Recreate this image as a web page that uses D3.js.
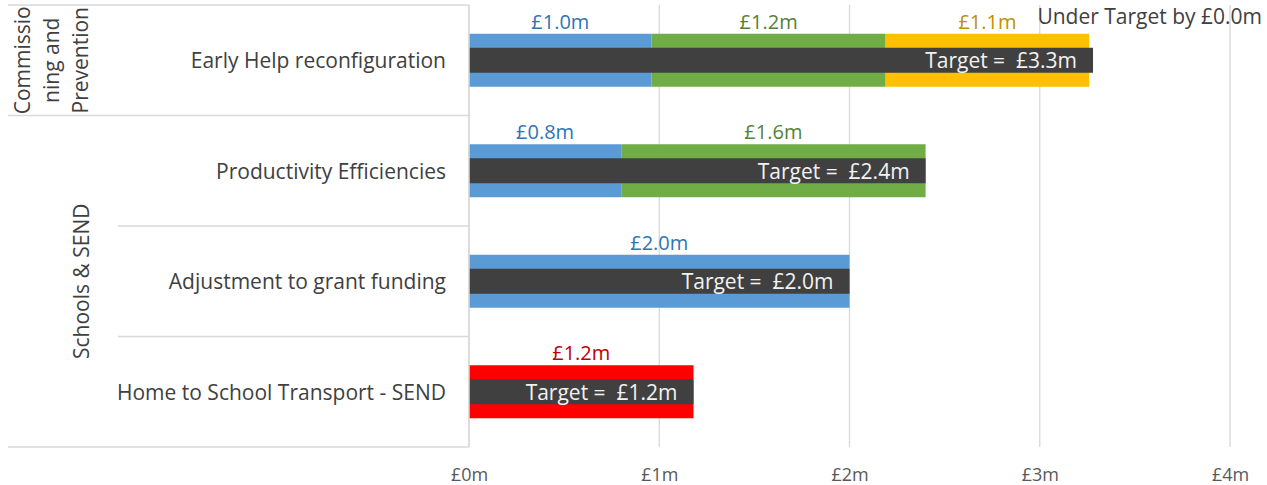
<!DOCTYPE html>
<html>
<head>
<meta charset="utf-8">
<script src="https://cdn.jsdelivr.net/npm/d3@7"></script>
<style>
  body { margin: 0; background: #fff; }
  svg { font-family: "Open Sans", sans-serif; }
</style>
</head>
<body>
<div id="container"></div>
<script>
// data (values in £m)
let categories = ["Early Help reconfiguration", "Productivity Efficiencies", "Adjustment to grant funding", "Home to School Transport - SEND"];
let groupNames = ["Commissioning and Prevention", "Schools & SEND"];
let groupLines = [["Commissio", "ning and", "Prevention"], ["Schools & SEND"]];
let groupSpans = [[0, 0], [1, 3]];
let blueVals = [0.96, 0.80, 2.00, 0];
let greenVals = [1.23, 1.60, 0, 0];
let yellowVals = [1.07, 0, 0, 0];
let redVals = [0, 0, 0, 1.18];
let targetVals = [3.28, 2.40, 2.00, 1.18];
let xTicks = [0, 1, 2, 3, 4];
let underText = "Under Target by £0.0m";

let w = 1267;
let h = 485;

let series = [
  { key: "blue", vals: blueVals, fill: "#5B9BD5", text: "#2E75B6" },
  { key: "green", vals: greenVals, fill: "#70AD47", text: "#548235" },
  { key: "yellow", vals: yellowVals, fill: "#FFC000", text: "#BF9000" },
  { key: "red", vals: redVals, fill: "#FF0000", text: "#C00000" }
];

let viz = d3.select("#container")
  .append("svg")
    .attr("width", w)
    .attr("height", h);

let xScale = d3.scaleLinear().domain([0, 4]).range([469, 1230]);
let yScale = d3.scaleBand().domain(categories).range([5, 447]);
let fmt = d3.format(".1f");

// gridlines
viz.append("g").selectAll("line").data(xTicks).enter()
  .append("line")
    .attr("x1", d => xScale(d)).attr("x2", d => xScale(d))
    .attr("y1", 5).attr("y2", 447)
    .attr("stroke", "#d9d9d9").attr("stroke-width", 1.3);

// category separator lines
let bounds = d3.range(categories.length + 1);
viz.append("g").selectAll("line").data(bounds).enter()
  .append("line")
    .attr("x1", function(i) {
      let isGroupEdge = i === 0 || i === categories.length || groupSpans.some(s => s[0] === i);
      return isGroupEdge ? 8 : 118;
    })
    .attr("x2", 469)
    .attr("y1", i => 5 + i * yScale.step())
    .attr("y2", i => 5 + i * yScale.step())
    .attr("stroke", "#d9d9d9").attr("stroke-width", 1.5);

// x axis
let xAxis = d3.axisBottom(xScale).tickValues(xTicks).tickFormat(d => "£" + d + "m").tickSize(0).tickPadding(0);
let xAxisGroup = viz.append("g")
    .attr("transform", "translate(0,465)")
    .call(xAxis)
    .attr("font-family", "Open Sans, sans-serif")
    .attr("font-size", 18);
xAxisGroup.select(".domain").remove();
xAxisGroup.selectAll("text")
  .attr("fill", "#595959")
  .attr("dy", "0.9em");

// stacked bars
let graphGroup = viz.append("g");
let outerH = 53;
let innerH = 25;

categories.forEach(function(cat, i) {
  let cy = yScale(cat) + yScale.bandwidth() / 2;
  let start = 0;
  series.forEach(function(s) {
    let v = s.vals[i];
    if (v <= 0) return;
    let x0 = xScale(start);
    let x1 = xScale(start + v);
    graphGroup.append("rect")
      .attr("x", x0).attr("y", cy - outerH / 2)
      .attr("width", x1 - x0).attr("height", outerH)
      .attr("fill", s.fill);
    graphGroup.append("text")
      .attr("x", (x0 + x1) / 2)
      .attr("y", cy - outerH / 2 - 5)
      .attr("text-anchor", "middle")
      .attr("font-size", 20)
      .attr("fill", s.text)
      .text("£" + fmt(v) + "m");
    start += v;
  });
  // target bar
  graphGroup.append("rect")
    .attr("x", xScale(0)).attr("y", cy - innerH / 2)
    .attr("width", xScale(targetVals[i]) - xScale(0)).attr("height", innerH)
    .attr("fill", "#404040");
  graphGroup.append("text")
    .attr("x", xScale(targetVals[i]) - 16)
    .attr("y", cy + 8)
    .attr("text-anchor", "end")
    .attr("font-size", 21)
    .attr("fill", "#f2f2f2")
    .attr("xml:space", "preserve")
    .text("Target =  £" + fmt(targetVals[i]) + "m");
});

// axis line on the left of the plot
viz.append("line")
  .attr("x1", 469).attr("x2", 469).attr("y1", 5).attr("y2", 447)
  .attr("stroke", "#d9d9d9").attr("stroke-width", 1.5);

// category labels
viz.append("g").selectAll("text").data(categories).enter()
  .append("text")
    .attr("x", 446)
    .attr("y", d => yScale(d) + yScale.bandwidth() / 2 + 8)
    .attr("text-anchor", "end")
    .attr("font-size", 21)
    .attr("fill", "#404040")
    .text(d => d);

// group labels (rotated)
groupSpans.forEach(function(span, g) {
  let y0 = yScale(categories[span[0]]);
  let y1 = yScale(categories[span[1]]) + yScale.bandwidth();
  let cy = (y0 + y1) / 2;
  let lines = groupLines[g];
  let lineH = 29;
  let cx = lines.length === 1 ? 82 : 52;
  let t = viz.append("text")
    .attr("transform", "translate(" + cx + "," + cy + ") rotate(-90)")
    .attr("text-anchor", "middle")
    .attr("font-size", 21)
    .attr("fill", "#404040");
  lines.forEach(function(l, k) {
    t.append("tspan")
      .attr("x", 0)
      .attr("y", (k - (lines.length - 1) / 2) * lineH + 7)
      .text(l);
  });
});

// under target note
viz.append("text")
  .attr("x", 1262).attr("y", 24)
  .attr("text-anchor", "end")
  .attr("font-size", 21)
  .attr("fill", "#404040")
  .text(underText);
</script>
</body>
</html>
